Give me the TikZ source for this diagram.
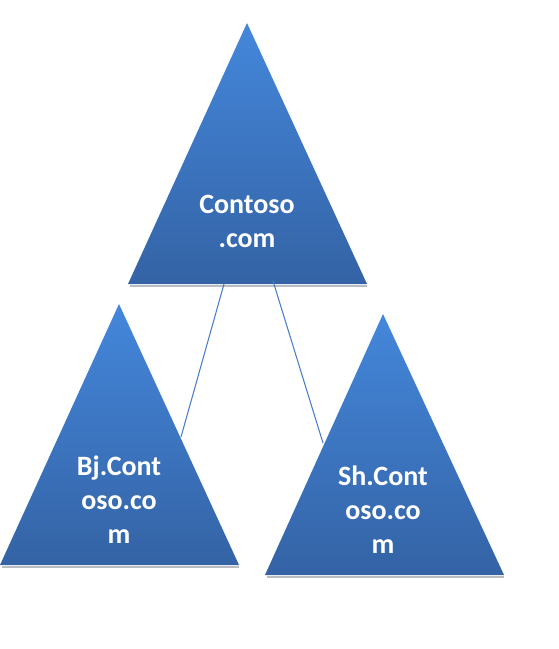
\documentclass[tikz,border=0pt]{standalone}
\usepackage{fontspec}
\setmainfont{Carlito}
\definecolor{triTop}{HTML}{4487DB}
\definecolor{triBot}{HTML}{3463A5}
\definecolor{linkBlue}{HTML}{4A7EC8}
\definecolor{shadowGray}{HTML}{8A8F96}
\begin{document}
\begin{tikzpicture}[x=0.75pt,y=-0.75pt,
  tri/.style={top color=triTop, bottom color=triBot, draw=none},
  baseshadow/.style={draw=shadowGray, line width=1.2pt, opacity=0.6},
  lbl/.style={text=white, font=\fontsize{21}{25.5}\selectfont\bfseries, align=center, anchor=base, inner sep=0pt},
  link/.style={draw=linkBlue, line width=0.8pt}]
\useasboundingbox (0,0) rectangle (558,649);
% top triangle
\coordinate (tA) at (247,23);
\coordinate (tL) at (128,284);
\coordinate (tR) at (367,284);
% left triangle
\coordinate (lA) at (119,304);
\coordinate (lL) at (0,565);
\coordinate (lR) at (239,565);
% right triangle
\coordinate (rA) at (383,314);
\coordinate (rL) at (265,575);
\coordinate (rR) at (504,575);
\draw[baseshadow] ([shift={(2,2)}]tL) -- ([shift={(0,2)}]tR);
\draw[baseshadow] ([shift={(2,2)}]lL) -- ([shift={(0,2)}]lR);
\draw[baseshadow] ([shift={(2,2)}]rL) -- ([shift={(0,2)}]rR);
\path[tri] (tA) -- (tR) -- (tL) -- cycle;
\path[tri] (lA) -- (lR) -- (lL) -- cycle;
\path[tri] (rA) -- (rR) -- (rL) -- cycle;
% connectors
\coordinate (c1s) at (224,284);
\coordinate (c1e) at (181,437);
\coordinate (c2s) at (273,281);
\coordinate (c2e) at (323,443);
\draw[link] (c1s) -- (c1e);
\draw[link] (c2s) -- (c2e);
% labels (anchor base = baseline of the last line)
\node[lbl] (top) at (247,247) {Contoso\\.com};
\node[lbl] (bj) at (119,543) {Bj.Cont\\oso.co\\m};
\node[lbl] (sh) at (383,553) {Sh.Cont\\oso.co\\m};
\end{tikzpicture}
\end{document}
